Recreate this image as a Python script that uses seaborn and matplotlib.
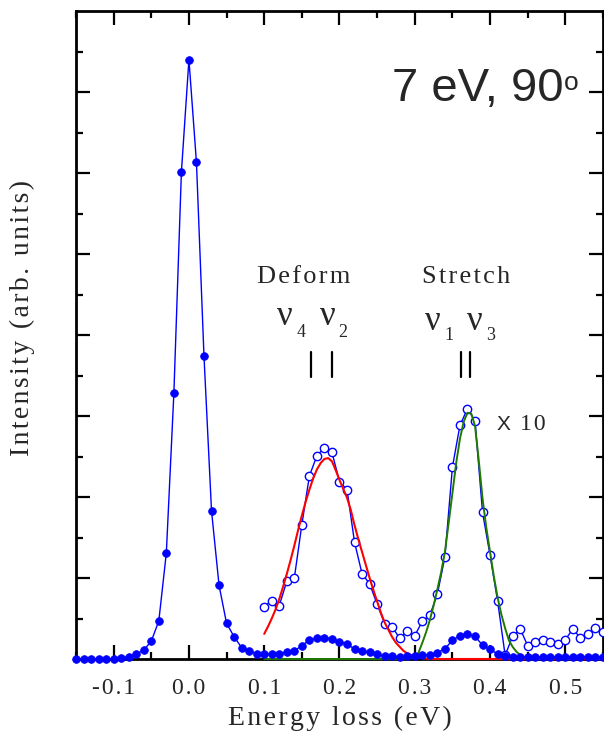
import numpy as np
import pandas as pd
import matplotlib
matplotlib.use("Agg")
import matplotlib.pyplot as plt
import seaborn as sns

# energy loss grid of the measured spectra (eV)
main_x = [-0.15, -0.14, -0.13, -0.12, -0.11, -0.10, -0.09, -0.08, -0.07, -0.06,
          -0.05, -0.04, -0.03, -0.02, -0.01, 0.00, 0.01, 0.02, 0.03, 0.04,
          0.05, 0.06, 0.07, 0.08, 0.09, 0.10, 0.11, 0.12, 0.13, 0.14,
          0.15, 0.16, 0.17, 0.18, 0.19, 0.20, 0.21, 0.22, 0.23, 0.24,
          0.25, 0.26, 0.27, 0.28, 0.29, 0.30, 0.31, 0.32, 0.33, 0.34,
          0.35, 0.36, 0.37, 0.38, 0.39, 0.40, 0.41, 0.42, 0.43, 0.44,
          0.45, 0.46, 0.47, 0.48, 0.49, 0.50, 0.51, 0.52, 0.53, 0.54, 0.55]
main_y = [0.0, 0.0, 0.0, 0.0, 0.0, 0.005, 0.016, 0.028, 0.058, 0.11,
          0.22, 0.47, 1.31, 3.28, 6.01, 7.40, 6.13, 3.74, 1.83, 0.91,
          0.44, 0.275, 0.14, 0.10, 0.062, 0.058, 0.065, 0.058, 0.09, 0.099,
          0.165, 0.235, 0.255, 0.263, 0.25, 0.21, 0.19, 0.12, 0.10, 0.083,
          0.058, 0.033, 0.033, 0.025, 0.033, 0.033, 0.045, 0.053, 0.078, 0.127,
          0.23, 0.29, 0.305, 0.28, 0.17, 0.12, 0.062, 0.04, 0.028, 0.025,
          0.025, 0.025, 0.025, 0.025, 0.025, 0.03, 0.03, 0.03, 0.03, 0.03, 0.03]

# x10 magnified part
zoom_x = [0.10, 0.11, 0.12, 0.13, 0.14, 0.15, 0.16, 0.17, 0.18, 0.19,
          0.20, 0.21, 0.22, 0.23, 0.24, 0.25, 0.26, 0.27, 0.28, 0.29,
          0.30, 0.31, 0.32, 0.33, 0.34, 0.35, 0.36, 0.37, 0.38, 0.39,
          0.40, 0.41, 0.42, 0.43, 0.44, 0.45, 0.46, 0.47, 0.48, 0.49,
          0.50, 0.51, 0.52, 0.53, 0.54, 0.55]
zoom_y = [0.646, 0.72, 0.66, 0.96, 1.00, 1.66, 2.26, 2.51, 2.61, 2.55,
          2.19, 2.09, 1.44, 1.05, 0.93, 0.675, 0.436, 0.395, 0.255, 0.345,
          0.29, 0.465, 0.54, 0.80, 1.26, 2.37, 2.885, 3.09, 2.94, 1.81,
          1.28, 0.716, 0.046, 0.28, 0.37, 0.165, 0.21, 0.24, 0.21, 0.19,
          0.24, 0.37, 0.26, 0.31, 0.38, 0.33]

# fitted deformation band (red)
deform_x = [0.100, 0.105, 0.110, 0.115, 0.120, 0.125, 0.130, 0.135, 0.140, 0.145,
            0.150, 0.155, 0.160, 0.165, 0.170, 0.175, 0.180, 0.185, 0.190, 0.195,
            0.200, 0.205, 0.210, 0.215, 0.220, 0.225, 0.230, 0.235, 0.240, 0.245,
            0.250, 0.255, 0.260, 0.265, 0.270, 0.275, 0.280, 0.285, 0.290, 0.295,
            0.300, 0.305, 0.310, 0.320, 0.550]
deform_y = [0.31, 0.40, 0.50, 0.61, 0.74, 0.89, 1.05, 1.22, 1.40, 1.59,
            1.77, 1.94, 2.09, 2.23, 2.34, 2.42, 2.47, 2.48, 2.44, 2.33,
            2.21, 2.10, 1.99, 1.84, 1.65, 1.48, 1.32, 1.16, 1.00, 0.85,
            0.71, 0.57, 0.45, 0.36, 0.27, 0.20, 0.15, 0.10, 0.07, 0.05,
            0.035, 0.02, 0.01, 0.0, 0.0]

# fitted stretching band (green)
stretch_x = [0.100, 0.290, 0.295, 0.300, 0.305, 0.310, 0.315, 0.320, 0.325, 0.330,
             0.335, 0.340, 0.345, 0.350, 0.355, 0.360, 0.365, 0.370, 0.375, 0.380,
             0.385, 0.390, 0.395, 0.400, 0.405, 0.410, 0.415, 0.420, 0.425, 0.430,
             0.435, 0.440, 0.445, 0.450, 0.460, 0.550]
stretch_y = [0.0, 0.0, 0.01, 0.03, 0.08, 0.20, 0.33, 0.48, 0.66, 0.86,
             1.07, 1.32, 1.68, 2.05, 2.42, 2.72, 2.93, 3.04, 3.03, 2.88,
             2.45, 1.98, 1.62, 1.32, 1.02, 0.76, 0.55, 0.38, 0.23, 0.15,
             0.09, 0.05, 0.025, 0.01, 0.0, 0.0]

# vibrational mode positions (eV)
mode_pos = [0.162, 0.190, 0.362, 0.374]

tick_vals = [-0.1, 0.0, 0.1, 0.2, 0.3, 0.4, 0.5]
tick_text = ["-0.1", "0.0", "0.1", "0.2", "0.3", "0.4", "0.5"]


def spaced(s, gap="\u200a"):
    # fake letter spacing of the original typesetting
    return gap.join(list(s))


sns.set_style("ticks")
plt.rcParams["font.family"] = ["Liberation Serif", "DejaVu Serif"]

fig = plt.figure(figsize=(6.04, 7.34), dpi=100)
ax = fig.add_axes([76 / 604, 75 / 734, 527 / 604, 648 / 734])

main = pd.DataFrame({"x": main_x, "y": main_y})
zoomed = pd.DataFrame({"x": zoom_x, "y": zoom_y})

sns.lineplot(data=zoomed, x="x", y="y", ax=ax, color="#0000ff", lw=1.0,
             marker="o", markersize=6, markerfacecolor="white",
             markeredgecolor="#0000ff", markeredgewidth=1.0, sort=False,
             estimator=None, zorder=4)
sns.lineplot(x=stretch_x, y=stretch_y, ax=ax, color="#1e7a00", lw=1.4,
             sort=False, estimator=None, clip_on=False, zorder=5)
sns.lineplot(x=deform_x, y=deform_y, ax=ax, color="#ff0000", lw=1.5,
             sort=False, estimator=None, clip_on=False, zorder=5)
sns.lineplot(data=main, x="x", y="y", ax=ax, color="#0000ff", lw=1.0,
             marker="o", markersize=5.5, markeredgewidth=0.6,
             markeredgecolor="#0000ff", sort=False,
             estimator=None, clip_on=False, zorder=6)

ax.set_xlim(-0.15, 0.55)
ax.set_ylim(0, 8)
ax.set_xticks(tick_vals)
ax.set_xticklabels([spaced(t) for t in tick_text])
ax.set_xticks(np.arange(-0.15, 0.56, 0.05), minor=True)
ax.set_yticks(np.arange(1, 8, 1))
ax.set_yticks(np.arange(0.5, 8, 0.5), minor=True)
ax.set_yticklabels([])
ax.tick_params(which="both", direction="in", top=True, right=True,
               width=1.6, color="black")
ax.tick_params(which="major", length=10, labelsize=17, pad=14)
ax.tick_params(which="minor", length=5)
for sp in ax.spines.values():
    sp.set_linewidth(2.0)
    sp.set_color("black")

ax.set_xlabel("")
ax.set_ylabel("")
fig.text(0.5 * (76 + 603) / 604, 1 - 718 / 734, spaced("Energy loss (eV)"),
         ha="center", va="center", fontsize=20)
fig.text(22 / 604, 1 - 318 / 734, spaced("Intensity (arb. units)"),
         rotation=90, ha="center", va="center", fontsize=20)

# title text
ax.text(0.2696, 6.89, "7 eV, 90", fontsize=34, family="Liberation Sans",
        ha="left", va="baseline")
ax.text(0.4976, 7.02, "o", fontsize=19, family="Liberation Sans",
        ha="left", va="baseline")

ax.text(0.0899, 4.64, spaced("Deform"), fontsize=19,
        ha="left", va="baseline")
ax.text(0.310, 4.64, spaced("Stretch"), fontsize=19,
        ha="left", va="baseline")

nu_labels = [("4", 0.1165, 0.143, 4.12, 3.975),
             ("2", 0.174, 0.198, 4.12, 3.975),
             ("1", 0.313, 0.340, 4.06, 3.94),
             ("3", 0.369, 0.395, 4.06, 3.94)]
for sub, xn, xs, yn, ys in nu_labels:
    ax.text(xn, yn, "\u03bd", fontsize=25, ha="left", va="baseline")
    ax.text(xs, ys, sub, fontsize=13, ha="left", va="baseline")

for m in mode_pos:
    ax.plot([m, m], [3.485, 3.79], color="black", lw=1.6)

ax.text(0.409, 2.83, "X", fontsize=15, family="Liberation Sans",
        ha="left", va="baseline")
ax.text(0.4396, 2.83, spaced("10"), fontsize=17, ha="left", va="baseline")

fig.savefig("out.png", dpi=100)
